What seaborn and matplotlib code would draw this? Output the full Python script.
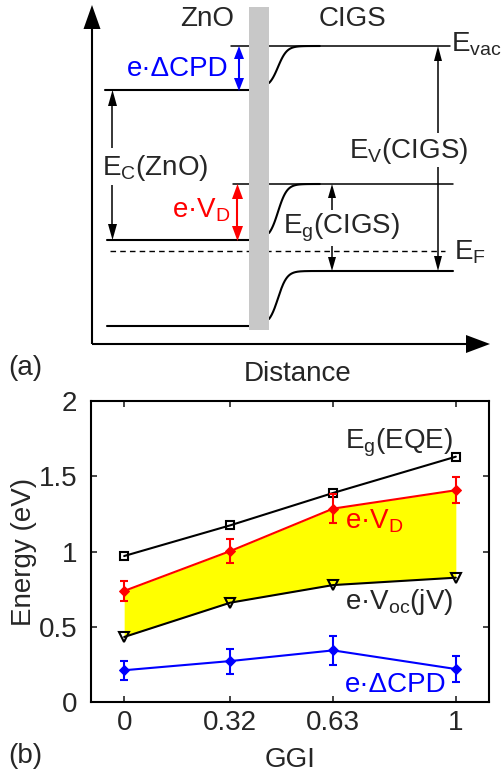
import numpy as np
import matplotlib
matplotlib.use("Agg")
import matplotlib.pyplot as plt
from matplotlib.patches import Rectangle, Polygon
import seaborn as sns

# ---------------- data for panel (b) ----------------
ggi = [0, 0.32, 0.63, 1]
ggi_labels = ["0", "0.32", "0.63", "1"]
eg_eqe = [0.97, 1.174, 1.389, 1.63]
e_vd = [0.738, 1.003, 1.285, 1.407]
e_vd_err = [0.065, 0.078, 0.097, 0.086]
e_voc = [0.432, 0.660, 0.777, 0.826]
e_dcpd = [0.211, 0.272, 0.343, 0.219]
e_dcpd_err = [0.064, 0.083, 0.097, 0.086]
energy_ticks = [0, 0.5, 1, 1.5, 2]
energy_labels = ["0", "0.5", "1", "1.5", "2"]

# ---------------- schematic levels for panel (a) (panel units, y down) ----------------
zno_levels = [90, 240, 326]          # E_vac, E_C, lower band of ZnO
cigs_levels = [46, 184, 271]         # E_vac, E_C, E_V of CIGS (flat part)
cigs_start = [83, 233, 319]          # band edges at the interface
fermi_level = 251

sns.set_style("ticks")
plt.rcParams["font.family"] = ["Liberation Sans", "DejaVu Sans"]
plt.rcParams["mathtext.fontset"] = "custom"
plt.rcParams["mathtext.rm"] = "Liberation Sans"
plt.rcParams["mathtext.it"] = "Liberation Sans"
plt.rcParams["mathtext.default"] = "regular"

FS = 20
fig = plt.figure(figsize=(5.02, 7.75), dpi=100)

# ================= panel (a): band diagram =================
ax = fig.add_axes([0, 1 - 390 / 775, 1, 390 / 775])
ax.set_xlim(0, 502)
ax.set_ylim(390, 0)
ax.axis("off")


def arrow(a, x0, y0, x1, y1, hl, hw, color="black", lw=1.2, both=False, z=3):
    """Line with filled triangular head(s)."""
    p0 = np.array([x0, y0], float)
    p1 = np.array([x1, y1], float)
    d = (p1 - p0) / np.linalg.norm(p1 - p0)
    n = np.array([-d[1], d[0]])
    s0 = p0 + d * hl * 0.8 if both else p0
    s1 = p1 - d * hl * 0.8
    a.plot([s0[0], s1[0]], [s0[1], s1[1]], color=color, lw=lw, zorder=z,
           solid_capstyle="butt")
    heads = [(p1, d)] + ([(p0, -d)] if both else [])
    for tip, dd in heads:
        base = tip - dd * hl
        a.add_patch(Polygon([tip, base + n * hw / 2, base - n * hw / 2],
                            closed=True, color=color, lw=0, zorder=z))


LW = 1.5
# axes of the schematic
arrow(ax, 92, 344, 92, 5, 24, 17, lw=LW)
arrow(ax, 92, 344, 490, 344, 24, 18, lw=LW)

# ZnO levels
for y in zno_levels:
    x0 = 105 if y == zno_levels[0] else 107
    ax.plot([x0, 249], [y, y], color="black", lw=LW, zorder=2)

# CIGS flat reference lines (continuing across the interface)
ax.plot([231, 450], [cigs_levels[0]] * 2, color="black", lw=1.1, zorder=2)
ax.plot([233, 453], [cigs_levels[1]] * 2, color="black", lw=1.1, zorder=2)

# bent bands in CIGS
xs = np.linspace(269, 453, 400)
for ytop, ystart, xend in zip(cigs_levels, cigs_start, [320, 320, 453]):
    frac0 = (1 - np.tanh((269 - 278) / 9)) / 2
    depth = (ystart - ytop) / frac0
    xx = xs[xs <= xend]
    yy = ytop + depth * (1 - np.tanh((xx - 278) / 9)) / 2
    ax.plot(xx, yy, color="black", lw=LW, zorder=2)

# Fermi level
ax.plot([110, 445], [fermi_level] * 2, color="black", lw=1.0, ls=(0, (4, 3)),
        zorder=2)

# interface layer
ax.add_patch(Rectangle((249, 7), 20, 323, color="#c8c8c8", lw=0, zorder=4))

# energy arrows
arrow(ax, 239, 46, 239, 91, 13, 10, color="blue", lw=1.5, both=True)
arrow(ax, 237.5, 184, 237.5, 241, 15, 11, color="red", lw=1.5, both=True)
arrow(ax, 112.5, 148, 112.5, 90, 16, 9, lw=1.1)
arrow(ax, 112.5, 185, 112.5, 240, 16, 9, lw=1.1)
arrow(ax, 332, 210, 332, 184, 14, 8, lw=1.1)
arrow(ax, 332, 246, 332, 271, 14, 8, lw=1.1)
arrow(ax, 438, 133, 438, 46, 15, 8, lw=1.1)
arrow(ax, 438, 167, 438, 271, 15, 8, lw=1.1)

# labels
ax.text(207, 19, "ZnO", fontsize=FS, ha="center", va="center")
ax.text(353, 19, "CIGS", fontsize=FS, ha="center", va="center")
ax.text(451, 52, r"E$_{\mathregular{vac}}$", fontsize=FS, ha="left", va="baseline")
ax.text(127, 76, r"e·ΔCPD", fontsize=FS, color="blue", ha="left", va="baseline")
ax.text(102, 175, r"E$_{\mathregular{C}}$(ZnO)", fontsize=FS, ha="left", va="baseline")
ax.text(172, 217, r"e·V$_{\mathregular{D}}$", fontsize=FS, color="red", ha="left",
        va="baseline")
ax.text(283, 233, r"E$_{\mathregular{g}}$(CIGS)", fontsize=FS, ha="left", va="baseline")
ax.text(349, 158, r"E$_{\mathregular{V}}$(CIGS)", fontsize=FS, ha="left", va="baseline")
ax.text(454, 259, r"E$_{\mathregular{F}}$", fontsize=FS, ha="left", va="baseline")
ax.text(8, 368, "(a)", fontsize=FS, ha="left", va="center")
ax.text(298, 381, "Distance", fontsize=FS, ha="center", va="baseline")

# ================= panel (b): energies vs GGI =================
bx = fig.add_axes([91 / 502, 73 / 775, 398 / 502, 301 / 775])

bx.fill_between(ggi, e_voc, e_vd, color="#ffff00", lw=0, zorder=1)

sns.lineplot(x=ggi, y=eg_eqe, ax=bx, color="black", lw=1.5, marker="s",
             markersize=6, markerfacecolor="none", markeredgecolor="black",
             markeredgewidth=1.5, zorder=3)
sns.lineplot(x=ggi, y=e_voc, ax=bx, color="black", lw=1.5, marker="v",
             markersize=7, markerfacecolor="none", markeredgecolor="black",
             markeredgewidth=1.5, zorder=3)
sns.lineplot(x=ggi, y=e_vd, ax=bx, color="red", lw=1.5, marker="D",
             markersize=5.5, markeredgecolor="red", zorder=4)
sns.lineplot(x=ggi, y=e_dcpd, ax=bx, color="blue", lw=1.5, marker="D",
             markersize=5.5, markeredgecolor="blue", zorder=4)
bx.errorbar(ggi, e_vd, yerr=e_vd_err, fmt="none", ecolor="red", elinewidth=1.5,
            capsize=3, capthick=1.5, zorder=4)
bx.errorbar(ggi, e_dcpd, yerr=e_dcpd_err, fmt="none", ecolor="blue",
            elinewidth=1.5, capsize=3, capthick=1.5, zorder=4)

bx.text(0.666, 1.686, r"E$_{\mathregular{g}}$(EQE)", fontsize=FS, ha="left",
        va="baseline")
bx.text(0.666, 1.154, r"e·V$_{\mathregular{D}}$", fontsize=FS, color="red",
        ha="left", va="baseline")
bx.text(0.666, 0.616, r"e·V$_{\mathregular{oc}}$(jV)", fontsize=FS, ha="left",
        va="baseline")
bx.text(0.666, 0.064, r"e·ΔCPD", fontsize=FS, color="blue", ha="left",
        va="baseline")

bx.set_xlim(-0.1, 1.1)
bx.set_ylim(0, 2)
bx.set_xticks(ggi)
bx.set_xticklabels(ggi_labels)
bx.set_yticks(energy_ticks)
bx.set_yticklabels(energy_labels)
bx.tick_params(direction="in", length=4.5, width=1.2, labelsize=FS,
               top=True, right=True)
bx.tick_params(axis="y", pad=10)
bx.tick_params(axis="x", pad=6)
for sp in bx.spines.values():
    sp.set_linewidth(1.5)
    sp.set_color("black")
bx.set_xlabel("GGI", fontsize=FS, labelpad=8)
bx.set_ylabel("Energy (eV)", fontsize=FS, labelpad=1)
fig.text(8 / 502, 1 - 756 / 775, "(b)", fontsize=FS, ha="left", va="center")

fig.savefig("out.png", dpi=100)
